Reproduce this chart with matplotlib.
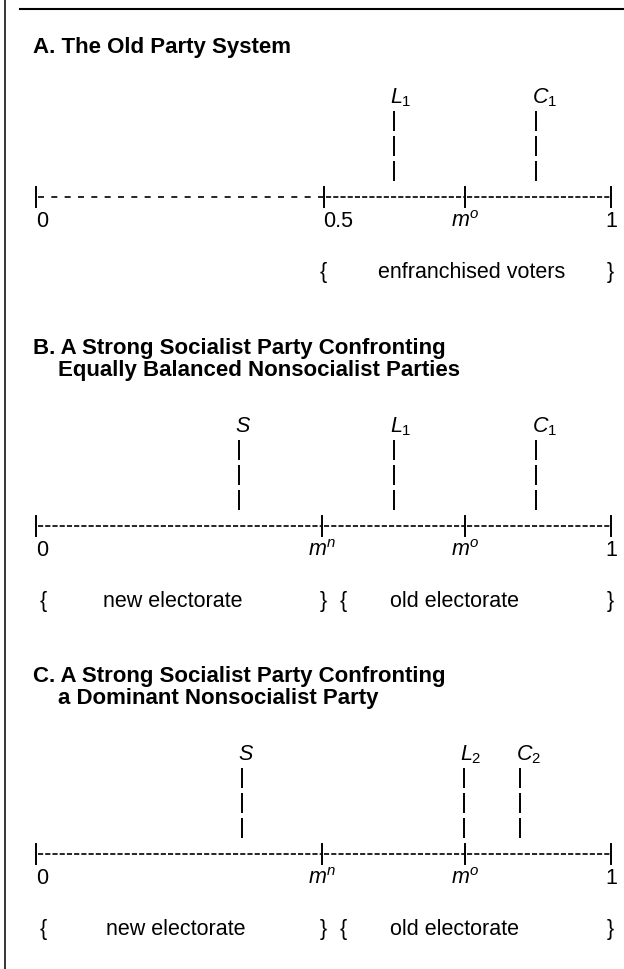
import matplotlib
matplotlib.use("Agg")
import matplotlib.pyplot as plt
from matplotlib import transforms

plt.rcParams['font.family'] = ['Liberation Sans', 'DejaVu Sans']
plt.rcParams['mathtext.fontset'] = 'custom'
plt.rcParams['mathtext.it'] = 'Liberation Sans:italic'
plt.rcParams['mathtext.rm'] = 'Liberation Sans'
plt.rcParams['lines.scale_dashes'] = False

# ---------------- data ----------------
titles_A = ["A. The Old Party System"]
titles_B = ["B. A Strong Socialist Party Confronting", "Equally Balanced Nonsocialist Parties"]
titles_C = ["C. A Strong Socialist Party Confronting", "a Dominant Nonsocialist Party"]

ticks_A = [0.0, 0.5, 0.746, 1.0]
tick_labels_A = ["0", "0.5", r"$m^{o}$", "1"]
ticks_B = [0.0, 0.497, 0.746, 1.0]
tick_labels_B = ["0", r"$m^{n}$", r"$m^{o}$", "1"]
ticks_C = [0.0, 0.497, 0.746, 1.0]
tick_labels_C = ["0", r"$m^{n}$", r"$m^{o}$", "1"]

party_names_A = [r"$L_{\mathit{1}}$", r"$C_{\mathit{1}}$"]
party_pos_A = [0.623, 0.870]
party_names_B = [r"$S$", r"$L_{\mathit{1}}$", r"$C_{\mathit{1}}$"]
party_pos_B = [0.353, 0.623, 0.870]
party_names_C = [r"$S$", r"$L_{\mathit{2}}$", r"$C_{\mathit{2}}$"]
party_pos_C = [0.358, 0.745, 0.842]

group_text_A = ["{", "enfranchised voters", "}"]
group_pos_A = [0.50, 0.757, 0.998]
group_text_B = ["{", "new electorate", "}", "{", "old electorate", "}"]
group_pos_B = [0.012, 0.238, 0.499, 0.534, 0.727, 0.998]
group_text_C = ["{", "new electorate", "}", "{", "old electorate", "}"]
group_pos_C = [0.012, 0.243, 0.499, 0.534, 0.728, 0.998]

# ---------------- layout ----------------
W, H = 624, 970
X0, XSPAN = 36, 575          # pixel of value 0 and pixel length of unit
fig = plt.figure(figsize=(W / 100, H / 100), dpi=100)
ax = fig.add_axes([0, 0, 1, 1])
ax.set_xlim(-X0 / XSPAN, (W - X0) / XSPAN)
ax.set_ylim(H, 0)
ax.axis('off')

FS = 15.5
FT = 16
WIDE = (0, (4.3, 5.3))
DENSE = (0, (3.7, 1.5))

# frame pieces (edge of the page the figure was cut from)
ax.plot([5 / W, 5 / W], [0, 1], transform=ax.transAxes, color='black', lw=1.1)
ax.plot([20 / W, 1], [1 - 9.5 / H, 1 - 9.5 / H], transform=ax.transAxes, color='black', lw=1.5)

lab_off = transforms.offset_copy(ax.transData, fig=fig, x=-4, y=0, units='dots')


def panel(axis_y, titles, ticks, tick_labels, names, pos, gtext, gpos, wide_first):
    # title
    if len(titles) == 1:
        ax.text(-3 / XSPAN, axis_y - 145, titles[0], fontsize=FT, fontweight='bold',
                ha='left', va='baseline')
    else:
        ax.text(-3 / XSPAN, axis_y - 173, titles[0], fontsize=FT, fontweight='bold',
                ha='left', va='baseline')
        ax.text(22 / XSPAN, axis_y - 151, titles[1], fontsize=FT, fontweight='bold',
                ha='left', va='baseline')
    # axis segments
    for i in range(len(ticks) - 1):
        ls = WIDE if (wide_first and i == 0) else DENSE
        ax.plot([ticks[i] + 2 / XSPAN, ticks[i + 1] - 1 / XSPAN], [axis_y, axis_y],
                color='black', lw=1.2, linestyle=ls, solid_capstyle='butt',
                dash_capstyle='butt')
    # tick bars and labels
    for t, lab in zip(ticks, tick_labels):
        ax.plot([t, t], [axis_y - 10, axis_y + 10], color='black', lw=1.4)
        ha = 'left' if lab in ("0", "0.5") else 'center'
        ax.text(t, axis_y + 29, lab, fontsize=FS, ha=ha, va='baseline')
    # party positions
    for n, p in zip(names, pos):
        ax.plot([p, p], [axis_y - 86, axis_y - 16], color='black', lw=1.4,
                linestyle=(0, (14.4, 3.6)), dash_capstyle='butt')
        ax.text(p, axis_y - 95, n, fontsize=FS, ha='left', va='baseline',
                transform=lab_off)
    # groups of voters
    for g, p in zip(gtext, gpos):
        ax.text(p, axis_y + 80, g, fontsize=FS, ha='center', va='baseline')


panel(198, titles_A, ticks_A, tick_labels_A, party_names_A, party_pos_A,
      group_text_A, group_pos_A, True)
panel(527, titles_B, ticks_B, tick_labels_B, party_names_B, party_pos_B,
      group_text_B, group_pos_B, False)
panel(855, titles_C, ticks_C, tick_labels_C, party_names_C, party_pos_C,
      group_text_C, group_pos_C, False)

fig.savefig("out.png", dpi=100)
